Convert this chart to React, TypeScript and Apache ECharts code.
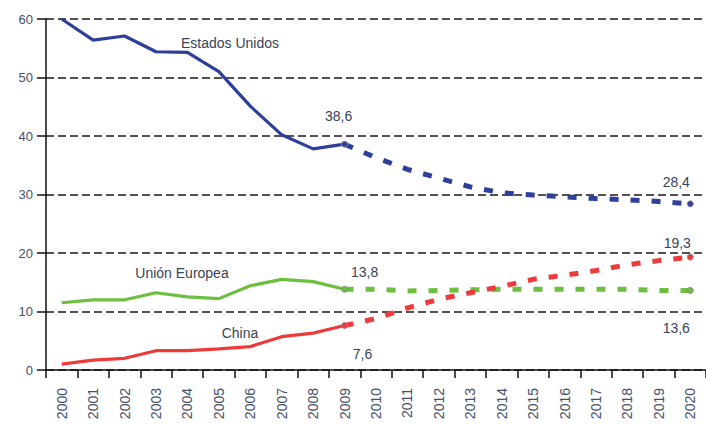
import React, { useEffect, useRef } from "react";
import * as echarts from "echarts";

const years = ["2000","2001","2002","2003","2004","2005","2006","2007","2008","2009","2010","2011","2012","2013","2014","2015","2016","2017","2018","2019","2020"];
const usHist = [60, 56.4, 57.1, 54.4, 54.3, 51.0, 45.1, 40.2, 37.8, 38.6];
const usProj = [38.6, 36.3, 34.3, 32.8, 31.3, 30.3, 29.9, 29.6, 29.3, 29.1, 28.8, 28.4];
const euHist = [11.5, 12.0, 12.0, 13.2, 12.5, 12.2, 14.4, 15.5, 15.1, 13.8];
const euProj = [13.8, 13.8, 13.5, 13.6, 13.7, 13.8, 13.8, 13.8, 13.8, 13.8, 13.6, 13.6];
const cnHist = [1.0, 1.7, 2.0, 3.3, 3.3, 3.6, 4.0, 5.7, 6.3, 7.6];
const cnProj = [7.6, 8.8, 10.6, 12.1, 13.2, 14.3, 15.5, 16.2, 17.0, 18.0, 18.7, 19.3];
const yTicks = { min: 0, max: 60, interval: 10 };
const seriesNames = ["Estados Unidos", "Unión Europea", "China"];

const FONT = "Liberation Sans, Arial, sans-serif";
const LABEL_COLOR = "#3a4258";
const COLORS = ["#2e3f9b", "#6dbf3f", "#ee3a3a"];

const fmt = (v: number) => String(v).replace(".", ",");

function endPoint(v: number, color: string, offset: number[] | null) {
  const item: any = {
    value: v,
    symbol: "circle",
    symbolSize: 6,
    itemStyle: { color, borderColor: "#8a8a8a", borderWidth: 1 },
  };
  if (offset) {
    item.label = {
      show: true,
      position: "inside",
      offset,
      formatter: fmt(v),
      color: LABEL_COLOR,
      fontSize: 14,
      fontFamily: FONT,
    };
  }
  return item;
}

function histData(vals: number[], color: string, offset: number[]) {
  const out: any[] = vals.map((v) => v);
  out[vals.length - 1] = endPoint(vals[vals.length - 1], color, offset);
  while (out.length < years.length) out.push(null);
  return out;
}

function projData(vals: number[], color: string, offset: number[]) {
  const pad = years.length - vals.length;
  const out: any[] = [];
  for (let i = 0; i < pad; i++) out.push(null);
  vals.forEach((v, i) => {
    if (i === vals.length - 1) out.push(endPoint(v, color, offset));
    else out.push(v);
  });
  return out;
}

export default function App() {
  const ref = useRef<HTMLDivElement>(null);
  useEffect(() => {
    if (!ref.current) return;
    const chart = echarts.init(ref.current, null, { renderer: "svg" });
    const solid = (c: string) => ({ color: c, width: 3.2, type: "solid" as const });
    const dashed = (c: string) => ({ color: c, width: 5, type: [9, 12] });
    const base = { type: "line", symbol: "none", smooth: false, connectNulls: false, z: 3 };
    chart.setOption({
      animation: false,
      textStyle: { fontFamily: FONT },
      grid: { left: 46, right: 0, top: 19, bottom: 54, containLabel: false },
      xAxis: {
        type: "category",
        data: years,
        boundaryGap: true,
        axisLine: { lineStyle: { color: "#111", width: 1.5 } },
        axisTick: { show: true, length: 8, alignWithLabel: false, lineStyle: { color: "#111", width: 1.5 } },
        axisLabel: { rotate: 90, margin: 18, fontSize: 14, color: "#46506a", fontFamily: FONT, interval: 0, padding: [8, 0, 0, 0] },
        splitLine: { show: false },
      },
      yAxis: {
        type: "value",
        min: yTicks.min,
        max: yTicks.max,
        interval: yTicks.interval,
        axisLine: { show: true, lineStyle: { color: "#111", width: 1.5 } },
        axisTick: { show: true, length: 9, lineStyle: { color: "#111", width: 1.5 } },
        axisLabel: { margin: 13, fontSize: 13, color: "#46506a", fontFamily: FONT },
        splitLine: { show: true, lineStyle: { color: "#1a1a1a", width: 1.5, type: [8, 4] } },
      },
      graphic: [
        { type: "text", x: 230, y: 43, style: { text: seriesNames[0], fill: LABEL_COLOR, font: `14px ${FONT}`, align: "center", verticalAlign: "middle" } },
        { type: "text", x: 182, y: 273, style: { text: seriesNames[1], fill: LABEL_COLOR, font: `14px ${FONT}`, align: "center", verticalAlign: "middle" } },
        { type: "text", x: 240, y: 333, style: { text: seriesNames[2], fill: LABEL_COLOR, font: `14px ${FONT}`, align: "center", verticalAlign: "middle" } },
      ],
      series: [
        { ...base, name: seriesNames[0], data: histData(usHist, COLORS[0], [-6, -28]), lineStyle: solid(COLORS[0]), itemStyle: { color: COLORS[0] } },
        { ...base, name: seriesNames[0] + " proj", data: projData(usProj, COLORS[0], [-14, -22]), lineStyle: dashed(COLORS[0]), itemStyle: { color: COLORS[0] } },
        { ...base, name: seriesNames[1], data: histData(euHist, COLORS[1], [20, -17]), lineStyle: solid(COLORS[1]), itemStyle: { color: COLORS[1] } },
        { ...base, name: seriesNames[1] + " proj", data: projData(euProj, COLORS[1], [-14, 38]), lineStyle: dashed(COLORS[1]), itemStyle: { color: COLORS[1] } },
        { ...base, name: seriesNames[2], data: histData(cnHist, COLORS[2], [18, 28]), lineStyle: solid(COLORS[2]), itemStyle: { color: COLORS[2] } },
        { ...base, name: seriesNames[2] + " proj", data: projData(cnProj, COLORS[2], [-13, -14]), lineStyle: dashed(COLORS[2]), itemStyle: { color: COLORS[2] } },
      ],
    });
    return () => chart.dispose();
  }, []);
  return (
    <div
      ref={ref}
      style={{ position: "fixed", left: 0, top: 0, width: 706, height: 424, background: "#fff" }}
    />
  );
}
